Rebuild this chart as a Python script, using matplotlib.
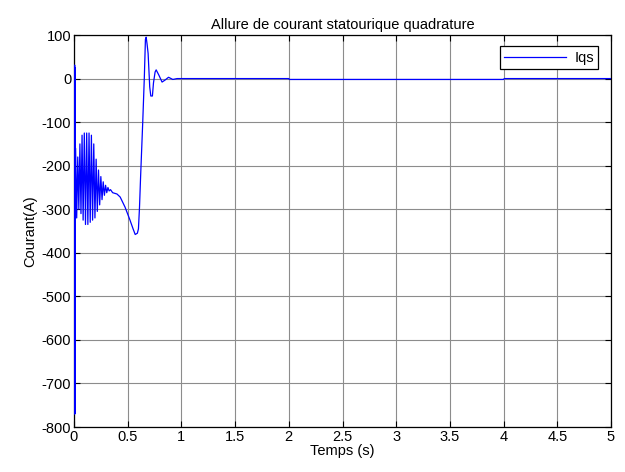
"""Courant statorique en quadrature Iqs (style MATLAB)."""

import matplotlib

matplotlib.use("Agg")
import matplotlib.pyplot as plt

# start-up spike
t_start = [0.0, 0.004, 0.006, 0.008, 0.010, 0.012]
i_start = [0.0, -770.0, 31.0, -770.0, 25.0, -340.0]

# oscillating phase (peaks / troughs)
t_osc = [0.015, 0.025, 0.035, 0.045, 0.055, 0.065, 0.075, 0.085, 0.096, 0.107,
         0.118, 0.129, 0.140, 0.151, 0.162, 0.173, 0.184, 0.195, 0.206, 0.217,
         0.228, 0.239, 0.250, 0.261, 0.272, 0.283, 0.294, 0.305, 0.316, 0.327]
i_osc = [-160, -320, -180, -300, -150, -310, -130, -325, -125, -335,
         -125, -335, -125, -330, -130, -325, -150, -320, -185, -305,
         -210, -290, -225, -278, -237, -268, -245, -262, -250, -258]

# transient and steady state
t_tail = [0.34, 0.36, 0.40, 0.43, 0.475, 0.52, 0.55, 0.57, 0.59, 0.60, 0.61,
          0.62, 0.64, 0.655, 0.665, 0.672, 0.68, 0.69, 0.705, 0.715, 0.73,
          0.74, 0.755, 0.765, 0.79, 0.82, 0.85, 0.88, 0.92, 0.96,
          2.0, 2.005, 4.0, 4.005, 5.0]
i_tail = [-255, -262, -265, -272, -295, -324, -345, -358, -355, -345, -295,
          -226, -100, 4, 90, 95, 80, 58, -19, -40, -40,
          -10, 15, 20, 8, -8, -3, 3, -2, 0,
          0, -2, -2, 0, 0]

t = t_start + t_osc + t_tail
iqs = i_start + i_osc + i_tail

plt.rcParams.update({
    "font.family": ["Liberation Sans", "DejaVu Sans"],
    "font.size": 10.5,
    "axes.unicode_minus": False,
})

fig = plt.figure(figsize=(6.25, 4.72), dpi=100)
ax = fig.add_axes([0.1184, 0.0953, 0.8592, 0.8305])

ax.plot(t, iqs, color="#0000ff", linewidth=0.9, label="Iqs", zorder=3)

ax.set_xlim(0, 5)
ax.set_ylim(-800, 100)
ax.set_xticks([0, 0.5, 1, 1.5, 2, 2.5, 3, 3.5, 4, 4.5, 5])
ax.set_xticklabels(["0", "0.5", "1", "1.5", "2", "2.5", "3", "3.5", "4", "4.5", "5"])
ax.set_yticks(range(-800, 101, 100))
ax.tick_params(direction="in", top=True, right=True, length=4, width=0.8, pad=2)
ax.grid(True, color="#8c8c8c", linewidth=0.8)
for spine in ax.spines.values():
    spine.set_linewidth(0.9)

ax.set_title("Allure de courant statourique quadrature", fontsize=10.5, pad=4)
ax.set_xlabel("Temps (s)", labelpad=0)
ax.set_ylabel("Courant(A)", labelpad=3)

leg = ax.legend(loc="upper right", fancybox=False, framealpha=1, edgecolor="black",
                handlelength=4.2, borderpad=0.3, handletextpad=0.6,
                bbox_to_anchor=(0.99, 0.99))
leg.get_frame().set_linewidth(0.9)
leg.set_zorder(5)

fig.savefig("out.png", dpi=100)
